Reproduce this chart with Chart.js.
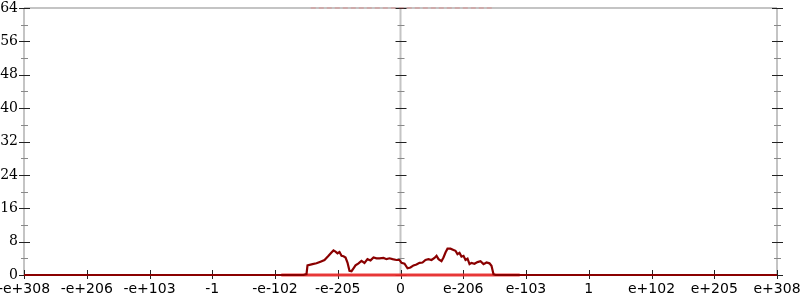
<!DOCTYPE html>
<html>
<head>
<meta charset="utf-8">
<script src="https://cdn.jsdelivr.net/npm/chart.js@4.4.1/dist/chart.umd.min.js"></script>
<style>
  html, body { margin: 0; padding: 0; background: #fff; }
  #wrap { width: 800px; height: 300px; }
</style>
</head>
<body>
<div id="wrap"><canvas id="chart" width="800" height="300"></canvas></div>
<script>
// x positions are in tick units: -6 .. 6, one unit per labelled tick
var xLabels = ['-e+308', '-e+206', '-e+103', '-1', '-e-102', '-e-205', '0',
               'e-206', 'e-103', '1', 'e+102', 'e+205', 'e+308'];

var countX = [-6, -1.546, -1.498, -1.482, -1.402, -1.339, -1.275, -1.211, -1.147, -1.100,
              -1.068, -1.036, -1.004, -0.972, -0.940, -0.908, -0.876, -0.845, -0.813, -0.781,
              -0.749, -0.717, -0.669, -0.622, -0.574, -0.526, -0.478, -0.430, -0.382, -0.335,
              -0.271, -0.223, -0.175, -0.127, -0.064, -0.016, 0.016, 0.064, 0.112, 0.159,
              0.207, 0.255, 0.303, 0.351, 0.398, 0.446, 0.494, 0.542, 0.574, 0.606,
              0.653, 0.685, 0.717, 0.749, 0.797, 0.845, 0.876, 0.908, 0.940, 0.972,
              1.004, 1.036, 1.068, 1.100, 1.131, 1.179, 1.227, 1.275, 1.323, 1.371,
              1.418, 1.450, 1.482, 1.514, 6];
var countY = [0, 0, 0.2, 2.3, 2.6, 2.8, 3.2, 3.6, 4.6, 5.4,
              5.9, 5.6, 5.2, 5.5, 4.6, 4.5, 4.2, 3.0, 1.0, 0.9,
              1.6, 2.3, 2.8, 3.4, 2.9, 3.8, 3.5, 4.2, 4.0, 4.0,
              4.1, 3.8, 4.0, 3.8, 3.6, 3.6, 2.9, 2.7, 1.6, 1.8,
              2.3, 2.5, 2.9, 3.0, 3.6, 3.8, 3.6, 4.1, 4.6, 3.8,
              3.3, 4.2, 5.4, 6.3, 6.3, 6.0, 5.8, 5.0, 5.3, 4.4,
              4.6, 3.6, 3.9, 2.6, 2.9, 2.7, 3.1, 3.3, 2.6, 3.0,
              2.8, 2.2, 0.2, 0, 0];

var baseX = [-1.9, 1.9];
var baseY = [0, 0];

var topX = [-1.43, 1.47];
var topY = [64, 64];

function points(xs, ys) {
    var out = [];
    for (var i = 0; i < xs.length; i++) {
        out.push({x: xs[i], y: ys[i]});
    }
    return out;
}

// axis lines and crossing ticks, drawn from the scales
var axesPlugin = {
    id: 'axes',
    beforeDatasetsDraw: function(chart) {
        var ctx = chart.ctx;
        var xs = chart.scales.x, ys = chart.scales.y;
        var a = chart.chartArea;
        ctx.save();
        ctx.lineWidth = 2;
        ctx.strokeStyle = '#c4c4c4';
        ctx.beginPath();
        ctx.moveTo(a.left, a.top); ctx.lineTo(a.right, a.top);
        ctx.moveTo(a.left, a.top); ctx.lineTo(a.left, a.bottom);
        ctx.moveTo(a.right, a.top); ctx.lineTo(a.right, a.bottom);
        var cx = xs.getPixelForValue(0);
        ctx.moveTo(cx, a.top); ctx.lineTo(cx, a.bottom);
        ctx.moveTo(a.left, a.bottom); ctx.lineTo(a.right, a.bottom);
        ctx.stroke();

        ctx.lineWidth = 1;
        var cols = [a.left, cx, a.right];
        for (var v = 0; v <= 64; v += 4) {
            var py = Math.round(ys.getPixelForValue(v)) + 0.5;
            var major = v % 8 === 0;
            var half = major ? 5 : 3;
            ctx.strokeStyle = major ? '#222' : '#888';
            ctx.beginPath();
            for (var c = 0; c < cols.length; c++) {
                ctx.moveTo(cols[c] - half, py);
                ctx.lineTo(cols[c] + half + 1, py);
            }
            ctx.stroke();
        }
        ctx.strokeStyle = '#222';
        ctx.beginPath();
        for (var t = -6; t <= 6; t++) {
            var px = Math.round(xs.getPixelForValue(t)) + 0.5;
            ctx.moveTo(px, a.bottom - 5);
            ctx.lineTo(px, a.bottom + 4);
        }
        ctx.stroke();
        ctx.restore();
    }
};

new Chart(document.getElementById('chart'), {
    type: 'line',
    data: {
        datasets: [{
            label: 'count',
            data: points(countX, countY),
            borderColor: '#8a0000',
            borderWidth: 2.2,
            pointRadius: 0,
            tension: 0,
            fill: false
        }, {
            label: 'base',
            data: points(baseX, baseY),
            borderColor: 'rgba(235, 40, 40, 0.9)',
            borderWidth: 3,
            pointRadius: 0,
            fill: false
        }, {
            label: 'top',
            data: points(topX, topY),
            borderColor: 'rgba(240, 80, 80, 0.22)',
            borderWidth: 2,
            borderDash: [5, 3],
            pointRadius: 0,
            fill: false
        }]
    },
    options: {
        responsive: false,
        animation: false,
        clip: false,
        layout: { padding: { top: 8, right: 23, left: 0, bottom: 0 } },
        plugins: {
            legend: { display: false },
            tooltip: { enabled: false }
        },
        scales: {
            x: {
                type: 'linear',
                min: -6,
                max: 6,
                grid: { display: false, drawTicks: false },
                border: { display: false },
                afterFit: function(scale) {
                    scale.height = 25;
                    scale.paddingLeft = 0;
                    scale.paddingRight = 0;
                },
                ticks: {
                    stepSize: 1,
                    padding: 6,
                    color: '#000',
                    maxRotation: 0,
                    autoSkip: false,
                    font: { family: 'DejaVu Sans', size: 14 },
                    callback: function(value) {
                        return xLabels[Math.round(value) + 6];
                    }
                }
            },
            y: {
                min: 0,
                max: 64,
                grid: { display: false, drawTicks: false },
                border: { display: false },
                afterFit: function(scale) {
                    scale.width = 24;
                    scale.paddingTop = 0;
                    scale.paddingBottom = 0;
                },
                ticks: {
                    stepSize: 8,
                    padding: 6,
                    color: '#000',
                    font: { family: 'DejaVu Serif', size: 14 }
                }
            }
        }
    },
    plugins: [axesPlugin]
});
</script>
</body>
</html>
